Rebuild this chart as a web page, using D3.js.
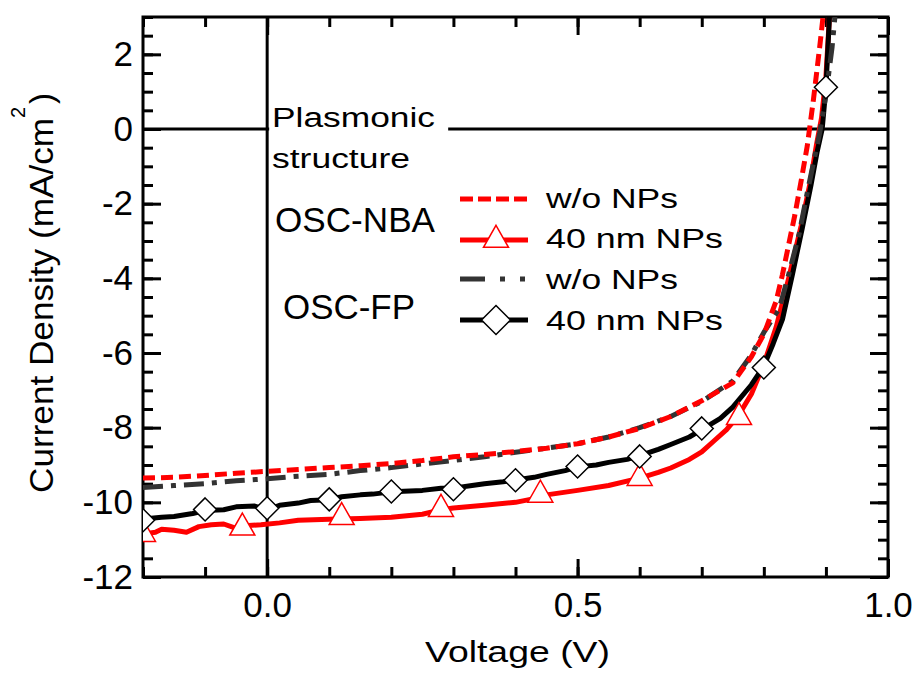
<!DOCTYPE html>
<html>
<head>
<meta charset="utf-8">
<script src="https://cdn.jsdelivr.net/npm/d3@7"></script>
<style>
  body { margin: 0; background: #fff; }
  svg text { font-family: "Liberation Sans", Arial, sans-serif; fill: #000; }
</style>
</head>
<body>
<svg id="chart" width="916" height="677"></svg>
<script>
// OSC-NBA, w/o NPs (red dashed)
const nbaRefV = [-0.2, -0.15, -0.1, -0.05, 0.0, 0.05, 0.1, 0.15, 0.2, 0.25, 0.3, 0.35, 0.4, 0.45, 0.5, 0.55, 0.6, 0.65, 0.7, 0.75, 0.78, 0.8, 0.82, 0.83, 0.84, 0.85, 0.86, 0.87, 0.88, 0.89, 0.896];
const nbaRefJ = [-9.35, -9.33, -9.28, -9.22, -9.17, -9.12, -9.07, -9.02, -8.96, -8.88, -8.78, -8.72, -8.64, -8.55, -8.43, -8.25, -8.02, -7.7, -7.28, -6.8, -6.1, -5.5, -4.6, -3.9, -3.1, -2.3, -1.4, -0.45, 0.8, 2.2, 3.1];

// OSC-NBA, 40 nm NPs (red solid, triangles)
const nba40V = [-0.2, -0.18, -0.17, -0.15, -0.13, -0.11, -0.09, -0.07, -0.05, -0.03, -0.01, 0.02, 0.05, 0.1, 0.15, 0.2, 0.25, 0.28, 0.3, 0.35, 0.4, 0.43, 0.45, 0.5, 0.55, 0.6, 0.63, 0.65, 0.68, 0.7, 0.72, 0.74, 0.76, 0.78, 0.8, 0.82, 0.84, 0.86, 0.875, 0.885, 0.893, 0.9, 0.906];
const nba40J = [-10.85, -10.8, -10.72, -10.75, -10.8, -10.65, -10.6, -10.58, -10.7, -10.62, -10.6, -10.55, -10.48, -10.45, -10.43, -10.4, -10.32, -10.2, -10.15, -10.08, -10.0, -9.9, -9.8, -9.68, -9.55, -9.35, -9.2, -9.08, -8.85, -8.65, -8.35, -8.05, -7.65, -7.1, -6.3, -5.3, -4.0, -2.6, -1.4, -0.4, 0.3, 1.4, 3.1];
const nba40MarkV = [-0.2, -0.04, 0.12, 0.28, 0.44, 0.6, 0.76];
const nba40MarkJ = [-10.85, -10.68, -10.4, -10.18, -9.8, -9.35, -7.72];

// OSC-FP, w/o NPs (dark grey dash-dot)
const fpRefV = [-0.2, -0.15, -0.1, -0.05, 0.0, 0.05, 0.1, 0.15, 0.2, 0.25, 0.3, 0.35, 0.4, 0.45, 0.5, 0.55, 0.6, 0.65, 0.7, 0.75, 0.78, 0.8, 0.825, 0.84, 0.857, 0.87, 0.88, 0.89, 0.9, 0.91, 0.915];
const fpRefJ = [-9.6, -9.55, -9.5, -9.42, -9.37, -9.3, -9.25, -9.15, -9.07, -8.97, -8.88, -8.78, -8.66, -8.55, -8.43, -8.25, -8.0, -7.7, -7.3, -6.75, -6.05, -5.45, -4.8, -3.9, -2.8, -1.7, -0.9, -0.1, 0.9, 2.2, 3.1];

// OSC-FP, 40 nm NPs (black solid, diamonds)
const fp40V = [-0.2, -0.17, -0.15, -0.12, -0.1, -0.07, -0.05, -0.02, 0.0, 0.02, 0.05, 0.07, 0.1, 0.12, 0.15, 0.17, 0.2, 0.22, 0.25, 0.28, 0.3, 0.33, 0.35, 0.38, 0.4, 0.43, 0.45, 0.48, 0.5, 0.53, 0.55, 0.58, 0.6, 0.63, 0.65, 0.68, 0.7, 0.73, 0.75, 0.78, 0.8, 0.815, 0.83, 0.846, 0.862, 0.876, 0.886, 0.894, 0.9, 0.906];
const fp40J = [-10.45, -10.4, -10.38, -10.3, -10.22, -10.2, -10.12, -10.1, -10.2, -10.08, -10.02, -9.95, -9.93, -9.85, -9.8, -9.78, -9.72, -9.7, -9.68, -9.62, -9.62, -9.55, -9.5, -9.45, -9.4, -9.33, -9.25, -9.15, -9.05, -9.0, -8.93, -8.85, -8.75, -8.58, -8.45, -8.25, -8.05, -7.75, -7.45, -6.85, -6.35, -5.75, -5.1, -3.9, -2.65, -1.5, -0.6, 0.0, 1.1, 3.1];
const fp40MarkV = [-0.2, -0.1, 0.0, 0.1, 0.2, 0.3, 0.4, 0.5, 0.6, 0.7, 0.8, 0.9];
const fp40MarkJ = [-10.48, -10.19, -10.16, -9.92, -9.71, -9.65, -9.41, -9.04, -8.77, -8.02, -6.39, 1.12];

const xMajor = [0.0, 0.5, 1.0];
const xMinor = d3.range(-0.2, 1.001, 0.1);
const yMajor = [-12, -10, -8, -6, -4, -2, 0, 2];
const yMinor = d3.range(-12, 3.001, 0.5);

const legendLabels = ["w/o NPs", "40 nm NPs", "w/o NPs", "40 nm NPs"];

const svg = d3.select("#chart");
const X0 = 143, X1 = 888, Y0 = 17, Y1 = 577;
const x = d3.scaleLinear().domain([-0.2, 1.0]).range([X0, X1]);
const y = d3.scaleLinear().domain([-12, 3]).range([Y1, Y0]);

svg.append("defs").append("clipPath").attr("id", "clip")
  .append("rect").attr("x", X0).attr("y", Y0).attr("width", X1 - X0).attr("height", Y1 - Y0);

// zero lines
svg.append("line").attr("x1", x(0)).attr("x2", x(0)).attr("y1", Y0).attr("y2", Y1)
  .attr("stroke", "#000").attr("stroke-width", 3);
svg.append("line").attr("x1", X0).attr("x2", X1).attr("y1", y(0)).attr("y2", y(0))
  .attr("stroke", "#000").attr("stroke-width", 3);

// white box behind the annotation, cuts the zero line
svg.append("rect").attr("x", x(0) + 2).attr("y", 100).attr("width", 179).attr("height", 75).attr("fill", "#fff");

// axes (ticks point inward)
function styleAxis(g) {
  g.select(".domain").remove();
  g.selectAll(".tick line").attr("stroke-width", 3);
  g.selectAll(".tick text").style("font-family", "'Liberation Sans', Arial, sans-serif").style("font-size", "35px").attr("fill", "#000");
}
svg.append("g").attr("transform", `translate(0,${Y1})`)
  .call(d3.axisBottom(x).tickValues(xMinor).tickSize(-10).tickFormat("")).call(styleAxis);
svg.append("g").attr("transform", `translate(0,${Y1})`)
  .call(d3.axisBottom(x).tickValues(xMajor).tickSize(-18).tickPadding(15).tickFormat(d => d.toFixed(1))).call(styleAxis);
svg.append("g").attr("transform", `translate(0,${Y0})`)
  .call(d3.axisTop(x).tickValues(xMinor).tickSize(-10).tickFormat("")).call(styleAxis);
svg.append("g").attr("transform", `translate(0,${Y0})`)
  .call(d3.axisTop(x).tickValues(xMajor).tickSize(-18).tickFormat("")).call(styleAxis);
svg.append("g").attr("transform", `translate(${X0},0)`)
  .call(d3.axisLeft(y).tickValues(yMinor).tickSize(-10).tickFormat("")).call(styleAxis);
svg.append("g").attr("transform", `translate(${X0},0)`)
  .call(d3.axisLeft(y).tickValues(yMajor).tickSize(-18).tickPadding(10).tickFormat(d => String(d))).call(styleAxis);
svg.append("g").attr("transform", `translate(${X1},0)`)
  .call(d3.axisRight(y).tickValues(yMinor).tickSize(-10).tickFormat("")).call(styleAxis);
svg.append("g").attr("transform", `translate(${X1},0)`)
  .call(d3.axisRight(y).tickValues(yMajor).tickSize(-18).tickFormat("")).call(styleAxis);

// frame
svg.append("rect").attr("x", X0).attr("y", Y0).attr("width", X1 - X0).attr("height", Y1 - Y0)
  .attr("fill", "none").attr("stroke", "#000").attr("stroke-width", 3);

// curves
const line = d3.line().x(d => x(d[0])).y(d => y(d[1]));
const plot = svg.append("g").attr("clip-path", "url(#clip)");
const series = [
  { v: nba40V, j: nba40J, color: "#ff0000", dash: null },
  { v: fp40V, j: fp40J, color: "#000", dash: null },
  { v: fpRefV, j: fpRefJ, color: "#333", dash: "20,8,5,8" },
  { v: nbaRefV, j: nbaRefJ, color: "#ff0000", dash: "12,6" },
];
series.forEach(s => {
  plot.append("path").datum(d3.zip(s.v, s.j)).attr("d", line)
    .attr("fill", "none").attr("stroke", s.color).attr("stroke-width", 5)
    .attr("stroke-dasharray", s.dash).attr("stroke-linejoin", "round");
});

function trianglePath(w, h) {
  return `M0,${-2 * h / 3}L${w / 2},${h / 3}L${-w / 2},${h / 3}Z`;
}
function diamondPath(r) {
  return `M0,${-r}L${r},0L0,${r}L${-r},0Z`;
}

plot.selectAll(".tri").data(d3.zip(nba40MarkV, nba40MarkJ)).join("path")
  .attr("class", "tri").attr("d", trianglePath(25, 22))
  .attr("transform", d => `translate(${x(d[0])},${y(d[1])})`)
  .attr("fill", "#fff").attr("stroke", "#ff0000").attr("stroke-width", 1.5);
plot.selectAll(".dia").data(d3.zip(fp40MarkV, fp40MarkJ)).join("path")
  .attr("class", "dia").attr("d", diamondPath(11.5))
  .attr("transform", d => `translate(${x(d[0])},${y(d[1])})`)
  .attr("fill", "#fff").attr("stroke", "#000").attr("stroke-width", 1.5);

// annotation
function label(txt, px, py, size, len) {
  const t = svg.append("text").attr("x", px).attr("y", py).style("font-size", size + "px").text(txt);
  if (len) t.attr("textLength", len).attr("lengthAdjust", "spacingAndGlyphs");
  return t;
}
label("Plasmonic", 272, 127, 27, 163);
label("structure", 272, 168, 27, 138);
label("OSC-NBA", 275, 232, 35, 160);
label("OSC-FP", 283, 319, 35, 132);

// legend
const legY = [199, 240, 279, 320];
const legTextY = [208, 248, 289, 330];
const legStyle = [
  { color: "#ff0000", dash: "13,5" },
  { color: "#ff0000", dash: null },
  { color: "#333", dash: "25,15,5,15,5,15" },
  { color: "#000", dash: null },
];
legStyle.forEach((s, i) => {
  svg.append("line").attr("x1", 460).attr("x2", 528).attr("y1", legY[i]).attr("y2", legY[i])
    .attr("stroke", s.color).attr("stroke-width", 5).attr("stroke-dasharray", s.dash);
  label(legendLabels[i], 546, legTextY[i], 28, i % 2 ? 177 : 132);
});
svg.append("path").attr("d", trianglePath(25, 22)).attr("transform", `translate(496,${legY[1]})`)
  .attr("fill", "#fff").attr("stroke", "#ff0000").attr("stroke-width", 1.5);
svg.append("path").attr("d", diamondPath(14.5)).attr("transform", `translate(496,${legY[3]})`)
  .attr("fill", "#fff").attr("stroke", "#000").attr("stroke-width", 1.5);

// axis titles
label("Voltage (V)", 425, 662, 30, 185);
const yt = svg.append("text").attr("transform", "translate(53,493) rotate(-90)").style("font-size", "33px");
yt.append("tspan").attr("textLength", 375).attr("lengthAdjust", "spacingAndGlyphs").text("Current Density (mA/cm");
yt.append("tspan").attr("dy", -28).style("font-size", "20px").text("2");
yt.append("tspan").attr("dy", 28).attr("dx", 3).text(")");
</script>
</body>
</html>
